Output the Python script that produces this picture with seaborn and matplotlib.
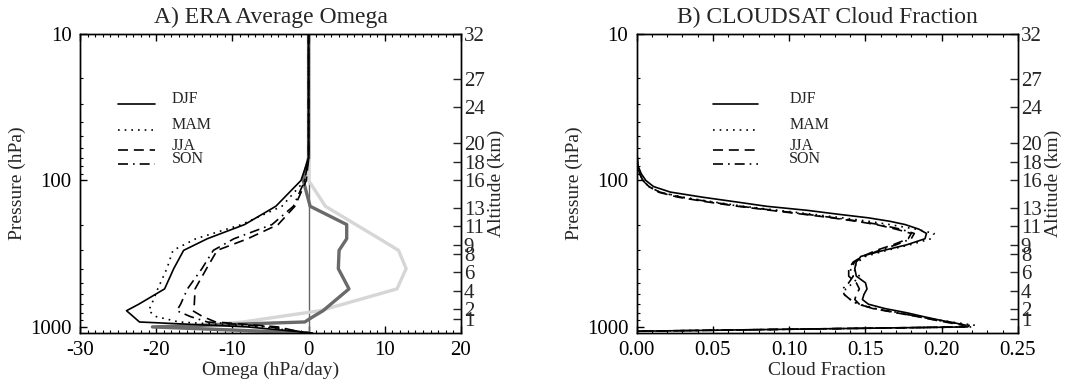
import numpy as np
import matplotlib
matplotlib.use('Agg')
import matplotlib.pyplot as plt
from matplotlib.ticker import FixedLocator, MultipleLocator, NullLocator, NullFormatter, LogLocator
import seaborn as sns

# ---- data ----
# A) ERA omega profiles (hPa/day)
era_levels = [10, 70, 100, 150, 200, 250, 300, 400, 550, 700, 775, 850, 925, 1000, 1100]
omega_djf = [0, 0, -1.0, -4.3, -8.4, -13.3, -16.4, -17.7, -18.9, -22.3, -23.9, -23.0, -22.2, -8.0, 0.5]
omega_mam = [0, 0, -0.5, -3.5, -8.8, -14.8, -17.8, -18.6, -19.8, -20.6, -21.0, -20.0, -17.0, -6.0, 0.0]
omega_jja = [0, 0, -0.3, -1.8, -4.0, -8.0, -12.0, -13.4, -14.9, -15.0, -15.2, -13.9, -12.2, -4.0, -0.5]
omega_son = [0, 0, -0.5, -2.0, -4.8, -9.8, -12.5, -14.0, -15.9, -16.8, -17.3, -15.5, -13.3, -5.0, 0.0]
omega_dark = [0, 0, -0.7, 0.2, 5.0, 5.0, 4.0, 3.9, 5.3, 2.9, 1.9, 0.6, -0.5, -20.5, 0.0]
omega_light = [0, 0, 0.0, 2.2, 6.2, 9.3, 11.8, 12.8, 11.6, 4.5, 1.5, -3.8, -8.6, -17.0, -4.0]

# B) CLOUDSAT cloud fraction
cs_levels = [65, 70, 80, 90, 100, 110, 120, 130, 140, 150, 160, 170, 180, 190, 200,
             215, 230, 250, 275, 300, 330, 360, 400, 450, 500, 550, 600, 650, 700,
             750, 800, 850, 900, 950, 975, 1000, 1070]
cf_djf = [0.0, 0.0005, 0.001, 0.003, 0.006, 0.011, 0.022, 0.043, 0.065, 0.085, 0.112, 0.132,
          0.152, 0.166, 0.176, 0.185, 0.190, 0.189, 0.177, 0.162, 0.147, 0.144, 0.143, 0.144,
          0.150, 0.151, 0.149, 0.148, 0.152, 0.163, 0.177, 0.188, 0.199, 0.211, 0.216, 0.215, 0.0]
cf_mam = [0.0, 0.0, 0.0005, 0.002, 0.004, 0.008, 0.015, 0.030, 0.050, 0.070, 0.093, 0.115,
          0.135, 0.152, 0.166, 0.183, 0.195, 0.193, 0.179, 0.164, 0.150, 0.145, 0.142, 0.146,
          0.142, 0.137, 0.136, 0.140, 0.146, 0.157, 0.172, 0.186, 0.199, 0.214, 0.222, 0.220, 0.0]
cf_jja = [0.0, 0.0, 0.0005, 0.002, 0.004, 0.008, 0.014, 0.027, 0.046, 0.066, 0.088, 0.109,
          0.128, 0.144, 0.157, 0.170, 0.180, 0.178, 0.168, 0.157, 0.148, 0.142, 0.139, 0.139,
          0.144, 0.146, 0.144, 0.143, 0.146, 0.155, 0.170, 0.184, 0.196, 0.208, 0.214, 0.213, 0.0]
cf_son = [0.0, 0.0, 0.0005, 0.002, 0.004, 0.008, 0.015, 0.029, 0.048, 0.068, 0.090, 0.111,
          0.130, 0.146, 0.159, 0.173, 0.182, 0.180, 0.170, 0.159, 0.149, 0.143, 0.140, 0.142,
          0.139, 0.135, 0.136, 0.140, 0.145, 0.156, 0.171, 0.185, 0.197, 0.211, 0.218, 0.217, 0.0]

seasons = ['DJF', 'MAM', 'JJA', 'SON']
alt_km = [32, 27, 24, 20, 18, 16, 13, 11, 9, 8, 6, 4, 2, 1]

# ---- style ----
sns.set_theme(style='ticks')
plt.rcParams['font.family'] = ['Liberation Serif', 'DejaVu Serif']
plt.rcParams['axes.linewidth'] = 1.0
plt.rcParams['axes.unicode_minus'] = False

styles = {'DJF': '-', 'MAM': (0, (1, 3)), 'JJA': (0, (6, 3.5)), 'SON': (0, (6, 3, 1, 3))}
LW = 1.2
TICK_FS = 15

fig = plt.figure(figsize=(10.81, 3.92), dpi=100)
axA = fig.add_axes([80 / 1081, 59 / 392, 381 / 1081, 299 / 392])
axB = fig.add_axes([636.7 / 1081, 59 / 392, 381.3 / 1081, 299 / 392])

# altitude (km) -> pressure (hPa) for the right-hand axis
alt_p = np.clip(1013.25 * np.exp(-np.array(alt_km) / 6.9), 10, None)


def setup_axes(ax, title, xlabel):
    ax.set_yscale('log')
    ax.set_ylim(1100, 10)
    ax.yaxis.set_major_locator(FixedLocator([10, 100, 1000]))
    ax.set_yticklabels(['10', '100', '1000'])
    ax.yaxis.set_minor_locator(LogLocator(base=10, subs=range(2, 10)))
    ax.yaxis.set_minor_formatter(NullFormatter())
    ax.tick_params(which='both', direction='in', top=True, right=False,
                   labelsize=TICK_FS, colors='black', pad=6)
    ax.tick_params(which='major', length=5, width=1)
    ax.tick_params(which='minor', length=2.5, width=0.8)
    ax.set_title(title, fontsize=17, pad=8)
    ax.set_xlabel(xlabel, fontsize=14, labelpad=1)
    ax.set_ylabel('Pressure (hPa)', fontsize=14, labelpad=3)
    for s in ax.spines.values():
        s.set_color('black')

    ax2 = ax.twinx()
    ax2.set_yscale('log')
    ax2.set_ylim(1100, 10)
    ax2.yaxis.set_major_locator(FixedLocator(alt_p))
    ax2.set_yticklabels([str(a) for a in alt_km])
    ax2.yaxis.set_minor_locator(NullLocator())
    ax2.tick_params(which='major', direction='in', length=6, width=1,
                    labelsize=TICK_FS, pad=2)
    ax2.set_ylabel('Altitude (km)', fontsize=14, labelpad=2)
    for s in ax2.spines.values():
        s.set_color('black')
    return ax2


def legend(ax, x0, x1, xt):
    rows = [(0.766, 0.782), (0.679, 0.696), (0.612, 0.625), (0.565, 0.582)]
    for name, (yl, yt) in zip(seasons, rows):
        ax.plot([x0, x1], [yl, yl], transform=ax.transAxes, color='black',
                linestyle=styles[name], lw=LW)
        ax.text(xt, yt, name, transform=ax.transAxes, fontsize=11.5,
                va='center', ha='left')


# ---- A) ERA Average Omega ----
axA.axvline(0, color='0.4', lw=1.0, zorder=1)
sns.lineplot(x=omega_light, y=era_levels, sort=False, estimator=None, ax=axA,
             color='#d6d6d6', lw=2.4, zorder=2)
sns.lineplot(x=omega_dark, y=era_levels, sort=False, estimator=None, ax=axA,
             color='#6a6a6a', lw=2.4, zorder=3)
for name, vals in zip(seasons, [omega_djf, omega_mam, omega_jja, omega_son]):
    sns.lineplot(x=vals, y=era_levels, sort=False, estimator=None, ax=axA,
                 color='black', linestyle=styles[name], lw=LW, zorder=4)
axA.set_xlim(-30, 20)
axA.xaxis.set_major_locator(MultipleLocator(10))
axA.xaxis.set_minor_locator(MultipleLocator(1))
setup_axes(axA, 'A) ERA Average Omega', 'Omega (hPa/day)')
legend(axA, 0.10, 0.197, 0.241)

# ---- B) CLOUDSAT Cloud Fraction ----
for name, vals in zip(seasons, [cf_djf, cf_mam, cf_jja, cf_son]):
    sns.lineplot(x=vals, y=cs_levels, sort=False, estimator=None, ax=axB,
                 color='black', linestyle=styles[name], lw=LW, zorder=4)
axB.set_xlim(0, 0.25)
axB.xaxis.set_major_locator(MultipleLocator(0.05))
axB.xaxis.set_minor_locator(MultipleLocator(0.01))
axB.xaxis.set_major_formatter(matplotlib.ticker.FormatStrFormatter('%.2f'))
setup_axes(axB, 'B) CLOUDSAT Cloud Fraction', 'Cloud Fraction')
legend(axB, 0.201, 0.319, 0.400)

fig.savefig('out.png', dpi=100)
